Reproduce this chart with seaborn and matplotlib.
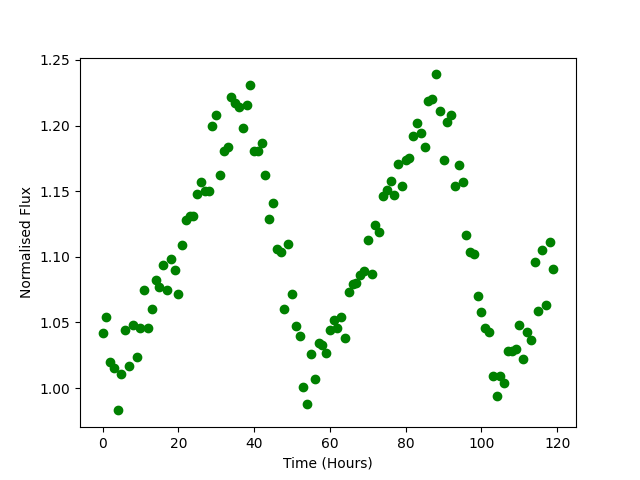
import matplotlib
matplotlib.use("Agg")
import matplotlib.pyplot as plt
import seaborn as sns
import pandas as pd

# Light curve, one reading per hour
hours = list(range(120))
flux = [
    1.042, 1.054, 1.020, 1.015, 0.983, 1.011, 1.044, 1.017, 1.048, 1.024,
    1.046, 1.075, 1.046, 1.060, 1.082, 1.077, 1.094, 1.075, 1.098, 1.090,
    1.072, 1.109, 1.128, 1.131, 1.131, 1.148, 1.157, 1.150, 1.150, 1.200,
    1.208, 1.162, 1.181, 1.184, 1.222, 1.217, 1.214, 1.198, 1.216, 1.231,
    1.181, 1.181, 1.187, 1.162, 1.129, 1.141, 1.106, 1.104, 1.060, 1.110,
    1.072, 1.047, 1.040, 1.001, 0.988, 1.026, 1.007, 1.034, 1.033, 1.027,
    1.044, 1.052, 1.046, 1.054, 1.038, 1.073, 1.079, 1.080, 1.086, 1.089,
    1.113, 1.087, 1.124, 1.119, 1.146, 1.151, 1.158, 1.147, 1.171, 1.154,
    1.174, 1.175, 1.192, 1.202, 1.194, 1.184, 1.219, 1.220, 1.239, 1.211,
    1.174, 1.203, 1.208, 1.154, 1.170, 1.157, 1.117, 1.104, 1.102, 1.070,
    1.058, 1.046, 1.043, 1.009, 0.994, 1.009, 1.004, 1.028, 1.028, 1.030,
    1.048, 1.022, 1.043, 1.037, 1.096, 1.059, 1.105, 1.063, 1.111, 1.091,
]

df = pd.DataFrame({"Time (Hours)": hours, "Normalised Flux": flux})

fig, ax = plt.subplots(figsize=(6.4, 4.8), dpi=100)
sns.scatterplot(
    data=df, x="Time (Hours)", y="Normalised Flux", ax=ax,
    color="green", edgecolor="green", linewidth=1, s=36,
)
ax.set_xlabel("Time (Hours)")
ax.set_ylabel("Normalised Flux")
fig.savefig("out.png", dpi=100)
